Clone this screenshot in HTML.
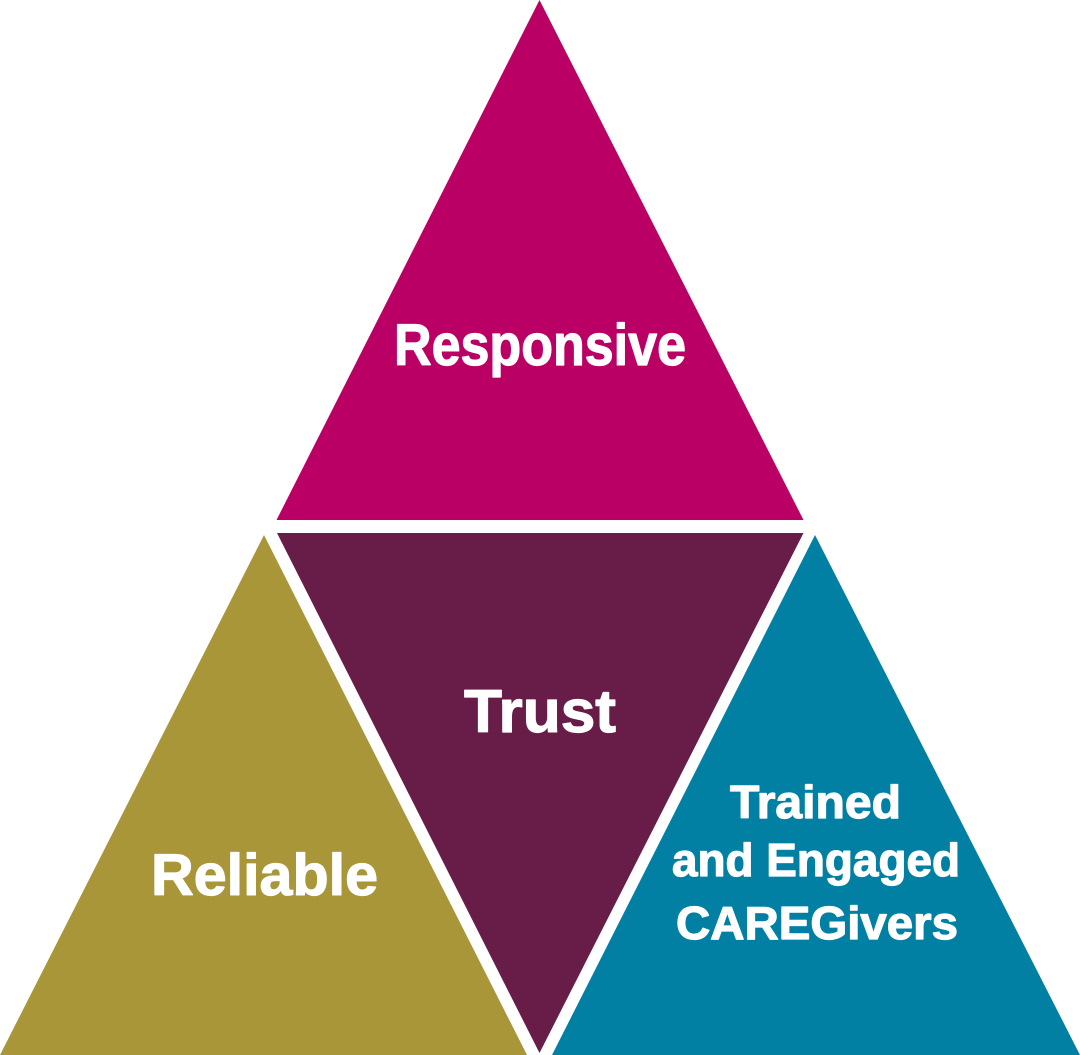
<!DOCTYPE html>
<html>
<head>
<meta charset="utf-8">
<style>
  html, body { margin: 0; padding: 0; background: #ffffff; }
  body { width: 1080px; height: 1055px; overflow: hidden; }
  svg { display: block; }
  text { font-family: "Liberation Sans", "DejaVu Sans", sans-serif; font-weight: bold; fill: #ffffff; stroke: #ffffff; stroke-width: 1.2px; stroke-linejoin: round; }
</style>
</head>
<body>
<svg width="1080" height="1055" viewBox="0 0 1080 1055" xmlns="http://www.w3.org/2000/svg">
  <rect width="1080" height="1055" fill="#ffffff"/>
  <!-- Top: Responsive -->
  <polygon points="539.5,0 276.5,520 803.5,520" fill="#BA0064"/>
  <!-- Middle inverted: Trust -->
  <polygon points="277,533 803.5,533 539.5,1053" fill="#671D48"/>
  <!-- Left: Reliable -->
  <polygon points="264,535 0,1055 527,1055" fill="#A99639"/>
  <!-- Right: Trained and Engaged CAREGivers -->
  <polygon points="815,535 552,1055 1080,1055" fill="#0280A4"/>

  <text x="394" y="365" font-size="58" textLength="292" lengthAdjust="spacingAndGlyphs">Responsive</text>
  <text x="464" y="732" font-size="60" textLength="152" lengthAdjust="spacingAndGlyphs">Trust</text>
  <text x="151" y="895" font-size="58" textLength="227" lengthAdjust="spacingAndGlyphs">Reliable</text>

  <text x="730" y="818" font-size="46" textLength="171" lengthAdjust="spacingAndGlyphs">Trained</text>
  <text x="672" y="876" font-size="46" textLength="288" lengthAdjust="spacingAndGlyphs">and Engaged</text>
  <text x="676" y="939" font-size="46" textLength="282" lengthAdjust="spacingAndGlyphs">CAREGivers</text>
</svg>
</body>
</html>
